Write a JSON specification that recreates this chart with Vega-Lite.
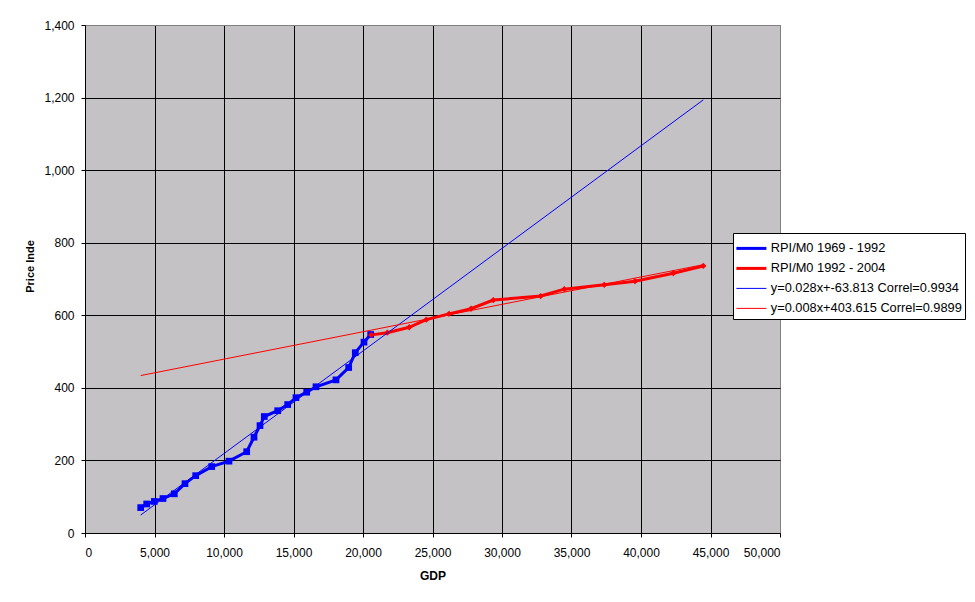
{
  "$schema": "https://vega.github.io/schema/vega-lite/v6.json",
  "autosize": "none",
  "width": 695,
  "height": 508,
  "padding": {"left": 85, "top": 25, "right": 195, "bottom": 69},
  "background": "white",
  "config": {
    "font": "Liberation Sans",
    "view": {"fill": "#C4C2C4", "stroke": "#808080", "strokeWidth": 1},
    "axis": {
      "labelFont": "Liberation Sans",
      "labelFontSize": 12,
      "labelColor": "black",
      "titleFont": "Liberation Sans",
      "titleFontSize": 12,
      "titleFontWeight": "bold",
      "titleColor": "black",
      "tickColor": "black",
      "tickSize": 4,
      "domainColor": "black",
      "grid": true,
      "gridOpacity": 1,
      "gridWidth": 1
    },
    "legend": {
      "orient": "none",
      "legendX": 648,
      "legendY": 208,
      "strokeColor": "black",
      "fillColor": "white",
      "padding": 3,
      "labelFont": "Liberation Sans",
      "labelFontSize": 12.8,
      "labelColor": "black",
      "labelOffset": 13,
      "symbolOffset": 9,
      "symbolType": "stroke",
      "symbolSize": 900,
      "rowPadding": 6,
      "labelLimit": 400,
      "titleFontSize": 4,
      "titlePadding": 2
    }
  },
  "data": {
    "values": [
      {"series": "RPI/M0 1969 - 1992", "gdp": 4007, "price": 70},
      {"series": "RPI/M0 1969 - 1992", "gdp": 4439, "price": 80},
      {"series": "RPI/M0 1969 - 1992", "gdp": 4985, "price": 87},
      {"series": "RPI/M0 1969 - 1992", "gdp": 5611, "price": 95},
      {"series": "RPI/M0 1969 - 1992", "gdp": 6424, "price": 108},
      {"series": "RPI/M0 1969 - 1992", "gdp": 7194, "price": 136},
      {"series": "RPI/M0 1969 - 1992", "gdp": 7964, "price": 158},
      {"series": "RPI/M0 1969 - 1992", "gdp": 9115, "price": 183},
      {"series": "RPI/M0 1969 - 1992", "gdp": 10359, "price": 198},
      {"series": "RPI/M0 1969 - 1992", "gdp": 11633, "price": 224},
      {"series": "RPI/M0 1969 - 1992", "gdp": 12158, "price": 264},
      {"series": "RPI/M0 1969 - 1992", "gdp": 12590, "price": 296},
      {"series": "RPI/M0 1969 - 1992", "gdp": 12899, "price": 321},
      {"series": "RPI/M0 1969 - 1992", "gdp": 13863, "price": 337},
      {"series": "RPI/M0 1969 - 1992", "gdp": 14582, "price": 354},
      {"series": "RPI/M0 1969 - 1992", "gdp": 15179, "price": 373},
      {"series": "RPI/M0 1969 - 1992", "gdp": 15949, "price": 388},
      {"series": "RPI/M0 1969 - 1992", "gdp": 16618, "price": 403},
      {"series": "RPI/M0 1969 - 1992", "gdp": 18057, "price": 422},
      {"series": "RPI/M0 1969 - 1992", "gdp": 18970, "price": 456},
      {"series": "RPI/M0 1969 - 1992", "gdp": 19446, "price": 497},
      {"series": "RPI/M0 1969 - 1992", "gdp": 20071, "price": 526},
      {"series": "RPI/M0 1969 - 1992", "gdp": 20553, "price": 547},
      {"series": "RPI/M0 1992 - 2004", "gdp": 20600, "price": 546},
      {"series": "RPI/M0 1992 - 2004", "gdp": 21747, "price": 552},
      {"series": "RPI/M0 1992 - 2004", "gdp": 23323, "price": 567},
      {"series": "RPI/M0 1992 - 2004", "gdp": 24553, "price": 588},
      {"series": "RPI/M0 1992 - 2004", "gdp": 26186, "price": 604},
      {"series": "RPI/M0 1992 - 2004", "gdp": 27769, "price": 618},
      {"series": "RPI/M0 1992 - 2004", "gdp": 29373, "price": 642},
      {"series": "RPI/M0 1992 - 2004", "gdp": 32783, "price": 653},
      {"series": "RPI/M0 1992 - 2004", "gdp": 34481, "price": 672},
      {"series": "RPI/M0 1992 - 2004", "gdp": 37359, "price": 684},
      {"series": "RPI/M0 1992 - 2004", "gdp": 39567, "price": 694},
      {"series": "RPI/M0 1992 - 2004", "gdp": 42323, "price": 716},
      {"series": "RPI/M0 1992 - 2004", "gdp": 44481, "price": 736},
      {"series": "y=0.028x+-63.813 Correl=0.9934", "gdp": 4007, "price": 49.5},
      {"series": "y=0.028x+-63.813 Correl=0.9934", "gdp": 44481, "price": 1193.7},
      {"series": "y=0.008x+403.615 Correl=0.9899", "gdp": 4007, "price": 433.9},
      {"series": "y=0.008x+403.615 Correl=0.9899", "gdp": 44481, "price": 739.4}
    ]
  },
  "layer": [
    {
      "transform": [{"filter": {"field": "series", "oneOf": ["RPI/M0 1969 - 1992", "RPI/M0 1992 - 2004"]}}],
      "mark": {"type": "line", "strokeWidth": 3},
      "encoding": {
        "x": {
          "field": "gdp",
          "type": "quantitative",
          "scale": {"domain": [0, 50000], "nice": false, "zero": false},
          "axis": {
            "title": "GDP",
            "values": [0, 5000, 10000, 15000, 20000, 25000, 30000, 35000, 40000, 45000, 50000],
            "format": ",.0f",
            "labelPadding": 10,
            "titleBaseline": "alphabetic",
            "titleY": 46,
            "gridColor": {"condition": {"test": "datum.value >= 50000", "value": "#808080"}, "value": "black"}
          }
        },
        "y": {
          "field": "price",
          "type": "quantitative",
          "scale": {"domain": [0, 1400], "nice": false, "zero": false},
          "axis": {
            "title": "Price Inde",
            "values": [0, 200, 400, 600, 800, 1000, 1200, 1400],
            "format": ",.0f",
            "labelPadding": 7,
            "titleFontSize": 11,
            "titleBaseline": "alphabetic",
            "titleAngle": -90,
            "titleX": -52,
            "titleY": 241,
            "gridColor": {"condition": {"test": "datum.value >= 1400", "value": "#808080"}, "value": "black"}
          }
        },
        "color": {
          "field": "series",
          "type": "nominal",
          "scale": {
            "domain": ["RPI/M0 1969 - 1992", "RPI/M0 1992 - 2004", "y=0.028x+-63.813 Correl=0.9934", "y=0.008x+403.615 Correl=0.9899"],
            "range": ["#0000FF", "#FF0000", "#0000FF", "#FF0000"]
          },
          "legend": {
            "title": " ",
            "encode": {
              "symbols": {
                "update": {
                  "strokeWidth": {"signal": "datum.index < 2 ? 3 : 1"}
                }
              }
            }
          }
        }
      }
    },
    {
      "transform": [{"filter": "datum.series === 'RPI/M0 1969 - 1992'"}],
      "mark": {"type": "point", "shape": "square", "filled": true, "color": "#0000FF", "size": 45, "opacity": 1},
      "encoding": {
        "x": {"field": "gdp", "type": "quantitative"},
        "y": {"field": "price", "type": "quantitative"}
      }
    },
    {
      "transform": [{"filter": "datum.series === 'RPI/M0 1992 - 2004'"}],
      "mark": {"type": "point", "shape": "diamond", "filled": true, "color": "#FF0000", "size": 40, "opacity": 1},
      "encoding": {
        "x": {"field": "gdp", "type": "quantitative"},
        "y": {"field": "price", "type": "quantitative"}
      }
    },
    {
      "transform": [{"filter": {"field": "series", "oneOf": ["y=0.028x+-63.813 Correl=0.9934", "y=0.008x+403.615 Correl=0.9899"]}}],
      "mark": {"type": "line", "strokeWidth": 1},
      "encoding": {
        "x": {"field": "gdp", "type": "quantitative"},
        "y": {"field": "price", "type": "quantitative"},
        "color": {"field": "series", "type": "nominal"}
      }
    }
  ]
}
